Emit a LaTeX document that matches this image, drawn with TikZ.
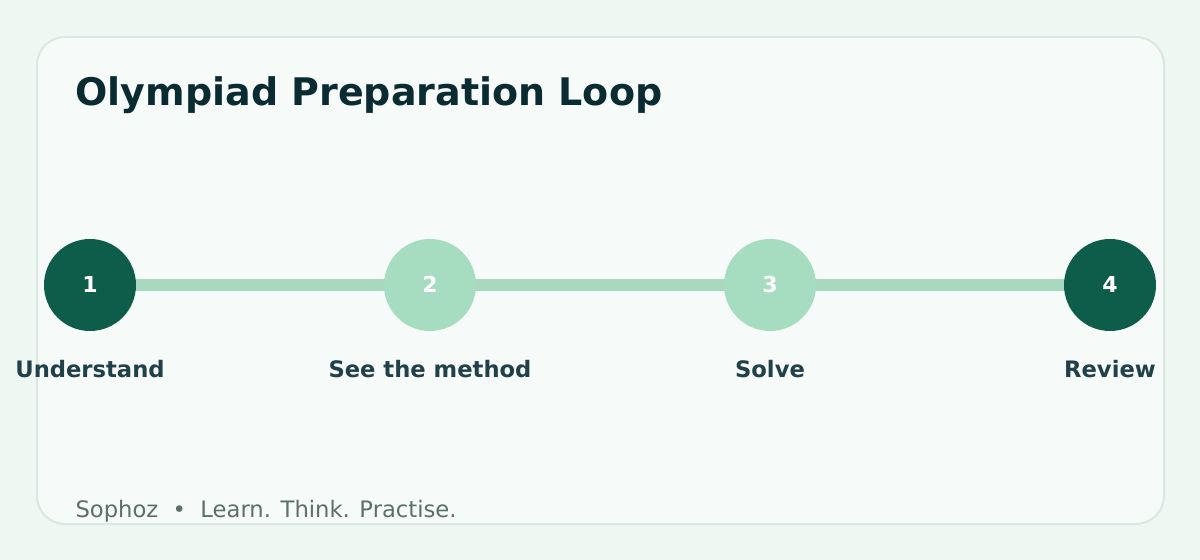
\documentclass[tikz,border=0pt]{standalone}
\usepackage{fontspec}
\setmainfont{DejaVu Sans}
\definecolor{pagebg}{RGB}{239,247,243}
\definecolor{cardbg}{RGB}{246,250,248}
\definecolor{cardline}{RGB}{218,232,225}
\definecolor{darkstep}{RGB}{14,92,74}
\definecolor{lightstep}{RGB}{166,220,192}
\definecolor{trackcol}{RGB}{168,216,190}
\definecolor{titlecol}{RGB}{11,43,51}
\definecolor{labelcol}{RGB}{33,65,74}
\definecolor{footcol}{RGB}{90,112,104}
\tikzset{every picture/.style={line width=0.75pt}}
\tikzset{
  stepdot/.style={circle,minimum size=69pt,inner sep=0pt,text=white,font=\bfseries\fontsize{16.5}{16.5}\selectfont},
  steplabel/.style={text=labelcol,font=\bfseries\fontsize{17}{17}\selectfont,anchor=base}
}
\begin{document}
\begin{tikzpicture}[x=0.75pt,y=0.75pt,yscale=-1,xscale=1]
	%Shape: Background
	\path [fill=pagebg] (0,0) rectangle (1200,560);
	\useasboundingbox (0,0) rectangle (1200,560);
	%Shape: Card
	\draw [cardline,fill=cardbg,line width=1.5pt,rounded corners=21pt] (37,37) rectangle (1164,524);

	% Text Node
	\node [anchor=base west,text=titlecol,font=\bfseries\fontsize{28.5}{28.5}\selectfont,inner sep=0pt] (title) at (75,106) {Olympiad Preparation Loop};

	\coordinate (c1) at (90,285);
	\coordinate (c2) at (430,285);
	\coordinate (c3) at (770,285);
	\coordinate (c4) at (1110,285);

	%Straight Lines
	\draw [trackcol,line width=9pt] (c1) -- (c2) -- (c3) -- (c4);

	%Shape: Steps
	\node [stepdot,fill=darkstep] (s1) at (c1) {\raisebox{1.5pt}{1}};
	\node [stepdot,fill=lightstep] (s2) at (c2) {\raisebox{1.5pt}{2}};
	\node [stepdot,fill=lightstep] (s3) at (c3) {\raisebox{1.5pt}{3}};
	\node [stepdot,fill=darkstep] (s4) at (c4) {\raisebox{1.5pt}{4}};

	% Text Node
	\node [steplabel] (l1) at (90,377) {Understand};
	\node [steplabel] (l2) at (430,377) {See the method};
	\node [steplabel] (l3) at (770,377) {Solve};
	\node [steplabel] (l4) at (1110,377) {Review};

	% Text Node
	\node [anchor=base west,text=footcol,font=\fontsize{17}{17}\selectfont,inner sep=0pt] (foot) at (75,517) {Sophoz\ \ •\ \ Learn. Think. Practise.};
\end{tikzpicture}
\end{document}
